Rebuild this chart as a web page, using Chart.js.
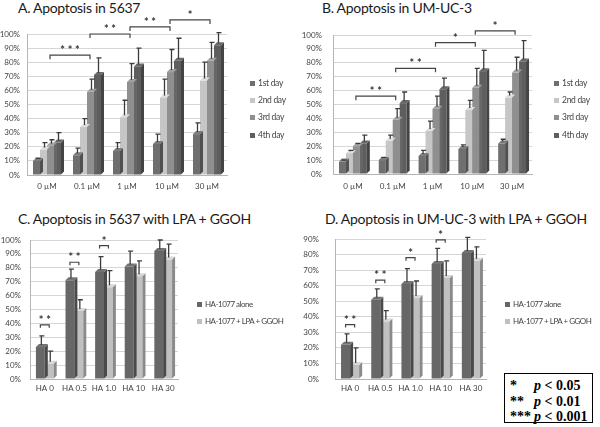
<!DOCTYPE html>
<html>
<head>
<meta charset="utf-8">
<script src="https://cdn.jsdelivr.net/npm/chart.js@4.4.1/dist/chart.umd.min.js"></script>
<style>
  body { margin: 0; background: #fff; width: 600px; height: 427px; position: relative; overflow: hidden; font-family: Lato, "Open Sans", sans-serif; }
  canvas { position: absolute; }
  .title { position: absolute; font-size: 14px; letter-spacing: -0.3px; color: #1a1a1a; white-space: nowrap; line-height: 16px; }
  .leg { position: absolute; font-size: 8.5px; letter-spacing: -0.3px; color: #444; white-space: nowrap; line-height: 10px; will-change: transform; }
  #legC .leg, #legD .leg { font-size: 8px; letter-spacing: -0.5px; }
  .leg i { display: inline-block; width: 5px; height: 5px; margin-right: 3px; vertical-align: 0px; }
  .pbox { position: absolute; left: 504px; top: 373px; width: 87px; height: 48px; border: 1.5px solid #000;
          font-family: "Liberation Serif", "DejaVu Serif", serif; font-weight: bold; font-size: 14px; color: #000; }
  .pbox div { position: absolute; left: 0; white-space: nowrap; line-height: 16px; }
  .pbox b { position: absolute; left: 5px; }
  .pbox span { position: absolute; left: 29px; }
</style>
</head>
<body>

<div class="title" style="left:18px;top:0px">A. Apoptosis in 5637</div>
<div class="title" style="left:322px;top:0px">B. Apoptosis in UM-UC-3</div>
<div class="title" style="left:18px;top:211px">C. Apoptosis in 5637 with LPA + GGOH</div>
<div class="title" style="left:325px;top:211px">D. Apoptosis in UM-UC-3 with LPA + GGOH</div>

<canvas id="chartA" width="240" height="200" style="left:0;top:0"></canvas>
<canvas id="chartB" width="240" height="200" style="left:300px;top:0"></canvas>
<canvas id="chartC" width="190" height="200" style="left:0;top:210px"></canvas>
<canvas id="chartD" width="200" height="200" style="left:300px;top:210px"></canvas>

<div id="legA"></div>
<div id="legB"></div>
<div id="legC"></div>
<div id="legD"></div>

<div class="pbox">
  <div style="top:4px"><b>*</b><span><i>p</i> &lt; 0.05</span></div>
  <div style="top:20px"><b>**</b><span><i>p</i> &lt; 0.01</span></div>
  <div style="top:35px"><b>***</b><span><i>p</i> &lt; 0.001</span></div>
</div>

<script>
// categories
const doses = ["0 µM", "0.1 µM", "1 µM", "10 µM", "30 µM"];
const days = ["1st day", "2nd day", "3rd day", "4th day"];
const haDoses = ["HA 0", "HA 0.5", "HA 1.0", "HA 10", "HA 30"];
const treatments = ["HA-1077 alone", "HA-1077 + LPA + GGOH"];

// A. apoptosis in 5637 (%), mean and SD per day
const a5637Day1 = [10, 14, 17, 22, 29];
const a5637Day2 = [18, 34, 41, 55, 67];
const a5637Day3 = [21, 59, 66, 73, 81];
const a5637Day4 = [23, 71, 77, 81, 92];
const a5637Sd1 = [2, 5, 6, 7, 8];
const a5637Sd2 = [5, 6, 12, 13, 13];
const a5637Sd3 = [4, 9, 13, 16, 13];
const a5637Sd4 = [7, 12, 13, 16, 9];

// B. apoptosis in UM-UC-3 (%)
const bUmucDay1 = [9, 10, 13, 18, 22];
const bUmucDay2 = [15, 24, 31, 46, 55];
const bUmucDay3 = [20, 39, 47, 62, 73];
const bUmucDay4 = [22, 51, 61, 74, 81];
const bUmucSd1 = [1, 2, 4, 3, 3];
const bUmucSd2 = [2, 4, 7, 7, 4];
const bUmucSd3 = [2, 8, 9, 14, 11];
const bUmucSd4 = [6, 8, 8, 15, 15];

// C. 5637 with LPA + GGOH (%)
const c5637Alone = [23, 71, 77, 81, 92];
const c5637Lpa = [11, 49, 66, 74, 86];
const c5637SdAlone = [8, 8, 11, 11, 8];
const c5637SdLpa = [9, 8, 12, 11, 11];

// D. UM-UC-3 with LPA + GGOH (%)
const dUmucAlone = [22, 51, 61, 74, 81];
const dUmucLpa = [9, 37, 52, 65, 76];
const dUmucSdAlone = [7, 7, 10, 10, 10];
const dUmucSdLpa = [11, 7, 11, 11, 9];

// significance brackets: [from, to, level %, stars]
const sigA = [[0, 1, 85, "***"], [1, 2, 100, "**"], [2, 3, 105, "**"], [3, 4, 110, "*"]];
const sigB = [[0, 1, 56, "**"], [1, 2, 76, "**"], [2, 3, 94.5, "*"], [3, 4, 103, "*"]];
// within-group brackets: [category, level %, stars]
const sigC = [[0, 39, "**"], [1, 84, "**"], [2, 96, "*"]];
const sigD = [[0, 35, "**"], [1, 63.5, "**"], [2, 78, "*"], [3, 89.5, "*"]];

const dayColors = ["#6f6f6f", "#c6c6c6", "#8f8f8f", "#5e5e5e"];
const treatColors = ["#676767", "#c0c0c0"];

function shade(hex, f) {
    const n = parseInt(hex.slice(1), 16);
    const c = [(n >> 16) & 255, (n >> 8) & 255, n & 255].map(v => Math.max(0, Math.min(255, Math.round(v * f))));
    return `rgb(${c[0]},${c[1]},${c[2]})`;
}

// fake 3d: side + top faces of each bar
const depthPlugin = {
    id: "depth",
    afterDatasetDraw(chart, args) {
        const ds = chart.data.datasets[args.index];
        const ctx = chart.ctx;
        const d = 3;
        ctx.save();
        args.meta.data.forEach(bar => {
            const { x, y, base, width } = bar.getProps(["x", "y", "base", "width"], true);
            const l = x - width / 2, r = x + width / 2;
            ctx.fillStyle = shade(ds.backgroundColor, 0.72);
            ctx.beginPath();
            ctx.moveTo(r, y); ctx.lineTo(r + d, y - d); ctx.lineTo(r + d, base - d); ctx.lineTo(r, base);
            ctx.closePath(); ctx.fill();
            ctx.fillStyle = shade(ds.backgroundColor, 1.12);
            ctx.beginPath();
            ctx.moveTo(l, y); ctx.lineTo(l + d, y - d); ctx.lineTo(r + d, y - d); ctx.lineTo(r, y);
            ctx.closePath(); ctx.fill();
        });
        ctx.restore();
    }
};

// upper error bars
const errorPlugin = {
    id: "errbars",
    afterDatasetsDraw(chart) {
        const ctx = chart.ctx;
        const yScale = chart.scales.y;
        ctx.save();
        ctx.strokeStyle = "#3c3c3c";
        ctx.lineWidth = 1.3;
        chart.data.datasets.forEach((ds, i) => {
            const meta = chart.getDatasetMeta(i);
            meta.data.forEach((bar, j) => {
                const x = bar.x + 1;
                const yTop = yScale.getPixelForValue(ds.data[j] + ds.errors[j]);
                ctx.beginPath();
                ctx.moveTo(x, bar.y - 2);
                ctx.lineTo(x, yTop);
                ctx.moveTo(x - 2, yTop);
                ctx.lineTo(x + 3, yTop);
                ctx.stroke();
            });
        });
        ctx.restore();
    }
};

function drawBracket(ctx, x1, x2, y, stars, leg) {
    ctx.beginPath();
    ctx.moveTo(x1, y + leg);
    ctx.lineTo(x1, y);
    ctx.lineTo(x2, y);
    ctx.lineTo(x2, y + leg);
    ctx.stroke();
    ctx.fillText(stars.split("").join(" "), (x1 + x2) / 2, y + 1);
}

const bracketPlugin = {
    id: "brackets",
    afterDraw(chart, args, opts) {
        const ctx = chart.ctx;
        const xs = chart.scales.x, ys = chart.scales.y;
        ctx.save();
        ctx.strokeStyle = "#444";
        ctx.fillStyle = "#333";
        ctx.lineWidth = 1.2;
        ctx.font = "bold 11px Lato, sans-serif";
        ctx.textAlign = "center";
        ctx.textBaseline = "bottom";
        if (opts.between) {
            opts.between.forEach(([a, b, lvl, stars]) => {
                drawBracket(ctx, xs.getPixelForValue(a) + 3, xs.getPixelForValue(b) + 3, ys.getPixelForValue(lvl), stars, 4);
            });
        }
        if (opts.within) {
            const m0 = chart.getDatasetMeta(0), m1 = chart.getDatasetMeta(1);
            opts.within.forEach(([k, lvl, stars]) => {
                drawBracket(ctx, m0.data[k].x, m1.data[k].x, ys.getPixelForValue(lvl), stars, 3);
            });
        }
        ctx.restore();
    }
};

const tickFont = { family: "Lato, sans-serif", size: 8 };

function makeChart(id, labels, datasets, cfg) {
    const ctx = document.getElementById(id).getContext("2d");
    return new Chart(ctx, {
        type: "bar",
        data: { labels: labels, datasets: datasets },
        options: {
            responsive: false,
            animation: false,
            devicePixelRatio: 1,
            layout: { padding: cfg.padding },
            datasets: { bar: { categoryPercentage: cfg.catPct, barPercentage: 1.0 } },
            plugins: {
                legend: { display: false },
                tooltip: { enabled: false },
                brackets: cfg.brackets,
            },
            scales: {
                x: {
                    grid: { display: false, drawTicks: false },
                    border: { color: "#b5b5b5" },
                    ticks: { font: tickFont, color: "#444", padding: cfg.xPad, maxRotation: 0 },
                    afterFit: s => { s.height = cfg.xH; },
                },
                y: {
                    min: 0,
                    max: cfg.yMax,
                    grid: { color: "#d6d6d6", drawTicks: false },
                    border: { color: "#b5b5b5" },
                    ticks: { stepSize: 10, font: tickFont, color: "#444", padding: cfg.yPad, callback: v => v + "%" },
                    afterFit: s => { s.width = cfg.yW; },
                },
            },
        },
        plugins: [depthPlugin, errorPlugin, bracketPlugin],
    });
}

function dayDatasets(vals, sds) {
    return vals.map((v, i) => ({ label: days[i], data: v, errors: sds[i], backgroundColor: dayColors[i] }));
}
function treatDatasets(vals, sds) {
    return vals.map((v, i) => ({ label: treatments[i], data: v, errors: sds[i], backgroundColor: treatColors[i] }));
}

makeChart("chartA", doses,
    dayDatasets([a5637Day1, a5637Day2, a5637Day3, a5637Day4], [a5637Sd1, a5637Sd2, a5637Sd3, a5637Sd4]),
    { padding: { left: 0, top: 34, right: 13, bottom: 0 }, yW: 27, xH: 25, yPad: 7, xPad: 7, yMax: 100, catPct: 0.7,
      brackets: { between: sigA } });

makeChart("chartB", doses,
    dayDatasets([bUmucDay1, bUmucDay2, bUmucDay3, bUmucDay4], [bUmucSd1, bUmucSd2, bUmucSd3, bUmucSd4]),
    { padding: { left: 0, top: 35, right: 8, bottom: 0 }, yW: 33, xH: 26, yPad: 11, xPad: 8, yMax: 100, catPct: 0.7,
      brackets: { between: sigB } });

makeChart("chartC", haDoses,
    treatDatasets([c5637Alone, c5637Lpa], [c5637SdAlone, c5637SdLpa]),
    { padding: { left: 0, top: 30, right: 12, bottom: 0 }, yW: 30, xH: 31, yPad: 9, xPad: 5, yMax: 100, catPct: 0.6,
      brackets: { within: sigC } });

makeChart("chartD", haDoses,
    treatDatasets([dUmucAlone, dUmucLpa], [dUmucSdAlone, dUmucSdLpa]),
    { padding: { left: 0, top: 29, right: 14, bottom: 0 }, yW: 35, xH: 31, yPad: 16, xPad: 5, yMax: 90, catPct: 0.6,
      brackets: { within: sigD } });

// html legends
function legend(id, names, colors, left, top, step) {
    const el = document.getElementById(id);
    names.forEach((n, i) => {
        const d = document.createElement("div");
        d.className = "leg";
        d.style.left = left + "px";
        d.style.top = (top + i * step) + "px";
        d.innerHTML = `<i style="background:${colors[i]}"></i>${n}`;
        el.appendChild(d);
    });
}
legend("legA", days, dayColors, 250, 78, 17.2);
legend("legB", days, dayColors, 554, 78, 17.2);
legend("legC", treatments, treatColors, 197, 299, 17);
legend("legD", treatments, treatColors, 505, 299, 17);
</script>
</body>
</html>
